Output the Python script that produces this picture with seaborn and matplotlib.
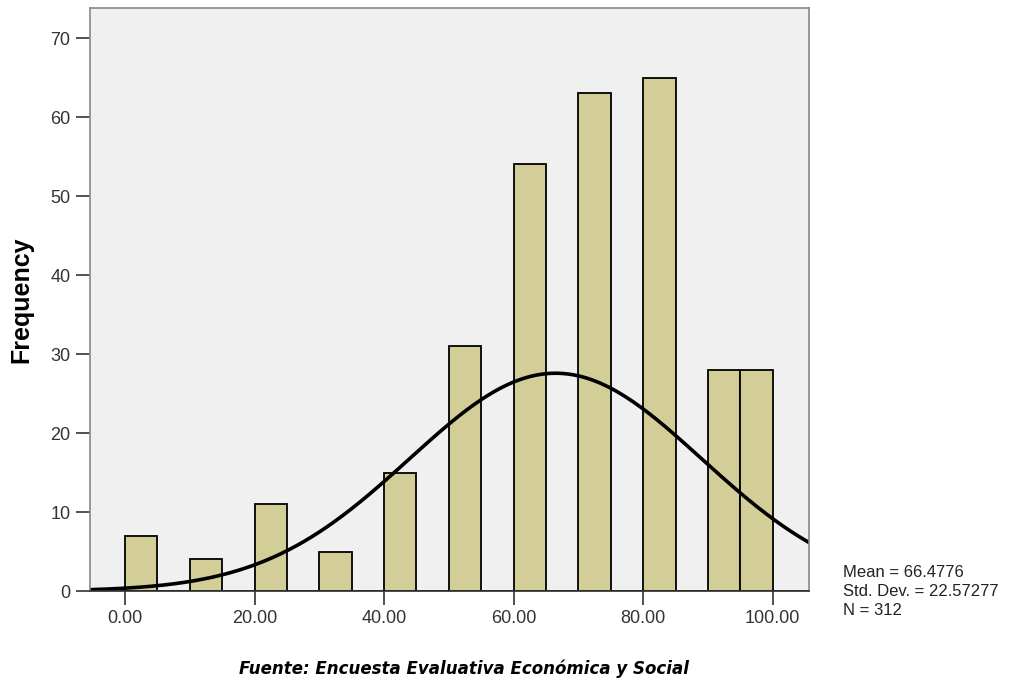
import numpy as np
import pandas as pd
import matplotlib
matplotlib.use("Agg")
import matplotlib.pyplot as plt
import seaborn as sns

# Data
bin_starts = [0, 10, 20, 30, 40, 50, 60, 70, 80, 90, 95]
counts = [7, 4, 11, 5, 15, 31, 54, 63, 65, 28, 28]
bin_width = 5
mean_val = 66.4776
std_val = 22.57277
n_val = 312
x_ticks = [0, 20, 40, 60, 80, 100]
x_tick_labels = ["0.00", "20.00", "40.00", "60.00", "80.00", "100.00"]
y_ticks = [0, 10, 20, 30, 40, 50, 60, 70]

sns.set_theme(style="white")
plt.rcParams["font.family"] = ["Liberation Sans", "DejaVu Sans"]

fig = plt.figure(figsize=(10.26, 6.85), dpi=100)
ax = fig.add_axes([0.0877, 0.1372, 0.7008, 0.8511])
ax.set_facecolor("#F0F0F0")

df = pd.DataFrame({"x": [b + bin_width / 2 for b in bin_starts], "w": counts})
sns.histplot(data=df, x="x", weights="w", binwidth=bin_width, binrange=(0, 100),
             color="#D3CE98", edgecolor="black", linewidth=1.3, alpha=1.0, ax=ax)

xlim = (-5.4, 105.6)
xs = np.linspace(xlim[0], xlim[1], 400)
ys = n_val * bin_width * np.exp(-0.5 * ((xs - mean_val) / std_val) ** 2) / (std_val * np.sqrt(2 * np.pi))
sns.lineplot(x=xs, y=ys, color="black", linewidth=2.6, ax=ax)

ax.axhline(0, color="black", linewidth=1.3)
ax.set_xlim(*xlim)
ax.set_ylim(0, 73.8)
ax.set_xticks(x_ticks)
ax.set_xticklabels(x_tick_labels)
ax.set_yticks(y_ticks)
ax.tick_params(axis="both", direction="out", length=10, width=1.2, color="#333333",
               labelsize=13, labelcolor="#333333", bottom=True, left=True, pad=4)
ax.set_xlabel("")
ax.set_ylabel("Frequency", fontsize=18, fontweight="bold", color="black", labelpad=12)
for s in ["top", "right", "left"]:
    ax.spines[s].set_color("#888888")
    ax.spines[s].set_linewidth(1.2)
ax.spines["bottom"].set_color("#333333")

fig.text(0.8216, 0.136, f"Mean = {mean_val}\nStd. Dev. = {std_val}\nN = {n_val}",
         fontsize=12, color="#222222", va="center", ha="left", linespacing=1.33)

fig.text(0.452, 0.023, "Fuente: Encuesta Evaluativa Económica y Social",
         fontsize=12, fontweight="bold", fontstyle="italic", ha="center", va="center",
         color="black", family=["DejaVu Sans"])

fig.savefig("out.png", dpi=100)
